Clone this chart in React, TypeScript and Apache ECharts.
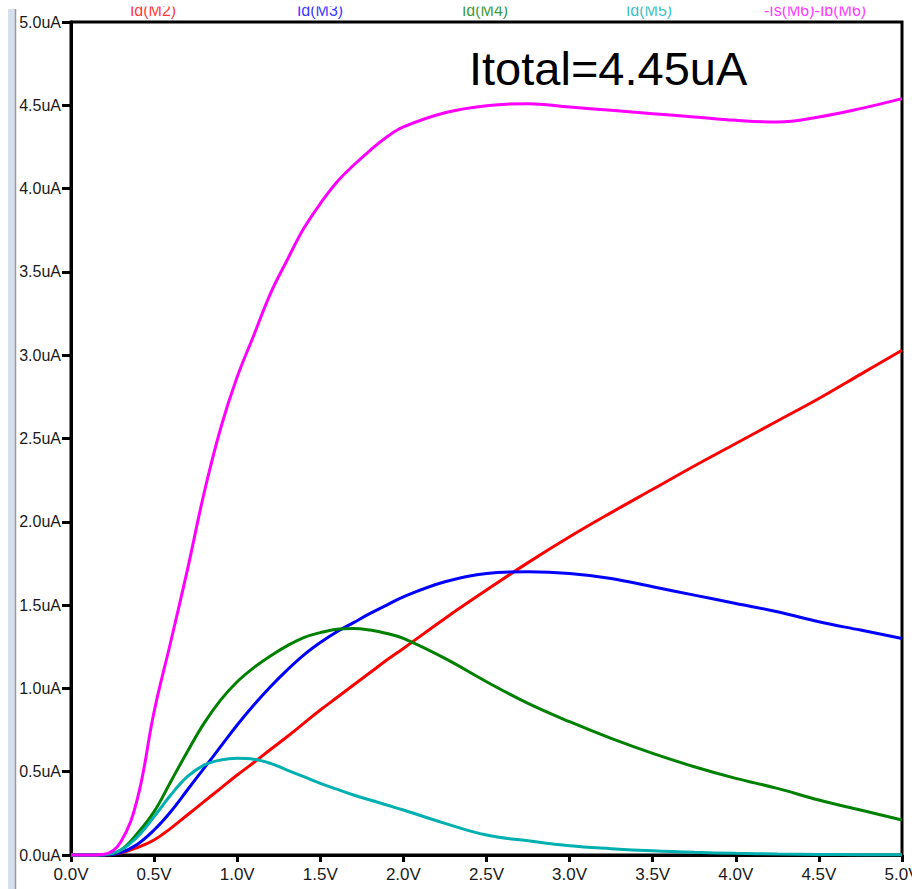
import React, { useEffect, useRef } from "react";
import * as echarts from "echarts";

const voltage = [0, 0.1, 0.2, 0.3, 0.4, 0.5, 0.6, 0.7, 0.8, 0.9, 1.0, 1.1, 1.2, 1.3, 1.4, 1.5, 1.6, 1.7, 1.8, 1.9, 2.0, 2.25, 2.5, 2.75, 3.0, 3.25, 3.5, 3.75, 4.0, 4.25, 4.5, 4.75, 5.0];
const idM2 = [0, 0, 0, 0.012, 0.045, 0.09, 0.16, 0.24, 0.32, 0.4, 0.48, 0.555, 0.633, 0.71, 0.79, 0.87, 0.945, 1.02, 1.095, 1.17, 1.24, 1.42, 1.59, 1.755, 1.91, 2.055, 2.195, 2.335, 2.47, 2.605, 2.74, 2.885, 3.03];
const idM3 = [0, 0, 0, 0.015, 0.065, 0.15, 0.26, 0.39, 0.52, 0.65, 0.78, 0.9, 1.01, 1.11, 1.2, 1.275, 1.34, 1.395, 1.45, 1.5, 1.55, 1.64, 1.69, 1.7, 1.69, 1.66, 1.61, 1.56, 1.51, 1.46, 1.4, 1.35, 1.3];
const idM4 = [0, 0, 0.002, 0.03, 0.13, 0.26, 0.44, 0.62, 0.79, 0.93, 1.04, 1.125, 1.195, 1.255, 1.305, 1.335, 1.355, 1.36, 1.35, 1.33, 1.3, 1.18, 1.04, 0.91, 0.8, 0.7, 0.61, 0.53, 0.46, 0.4, 0.33, 0.27, 0.21];
const idM5 = [0, 0, 0.002, 0.03, 0.11, 0.23, 0.36, 0.47, 0.54, 0.57, 0.58, 0.575, 0.55, 0.51, 0.47, 0.43, 0.395, 0.36, 0.33, 0.3, 0.27, 0.19, 0.12, 0.085, 0.055, 0.038, 0.025, 0.016, 0.01, 0.006, 0.003, 0.002, 0.001];
const isM6 = [0, 0, 0.005, 0.08, 0.34, 0.86, 1.28, 1.71, 2.17, 2.56, 2.87, 3.12, 3.37, 3.57, 3.76, 3.91, 4.04, 4.14, 4.23, 4.31, 4.37, 4.455, 4.497, 4.51, 4.49, 4.47, 4.45, 4.43, 4.41, 4.4, 4.43, 4.48, 4.54];

const seriesNames = ["Id(M2)", "Id(M3)", "Id(M4)", "Id(M5)", "-Is(M6)-Ib(M6)"];
const seriesColors = ["#ff0000", "#0000ff", "#008000", "#00b0b0", "#ff00ff"];
const seriesValues = [idM2, idM3, idM4, idM5, isM6];
const legendCenters = [153, 320, 485, 649, 815];
const annotation = "Itotal=4.45uA";

const FONT = "'Liberation Sans', Arial, sans-serif";

export default function App() {
  const ref = useRef<HTMLDivElement>(null);
  useEffect(() => {
    if (!ref.current) return;
    const chart = echarts.init(ref.current, undefined, { renderer: "svg" });
    const series = seriesValues.map((vals, k) => ({
      name: seriesNames[k],
      type: "line",
      data: voltage.map((v, i) => [v, vals[i]]),
      showSymbol: false,
      smooth: 0.4,
      clip: false,
      lineStyle: { color: seriesColors[k], width: 3 },
      itemStyle: { color: seriesColors[k] },
      z: 3,
    }));
    const legendTexts = seriesNames.map((n, k) => ({
      type: "text",
      x: legendCenters[k],
      y: 10,
      style: {
        text: n,
        fill: seriesColors[k],
        font: `16px ${FONT}`,
        textAlign: "center",
        textVerticalAlign: "middle",
        opacity: 0.8,
      },
    }));
    chart.setOption({
      animation: false,
      backgroundColor: "#ffffff",
      grid: {
        left: 71,
        right: 10,
        top: 22,
        bottom: 34,
        outerBoundsMode: "none",
        containLabel: false,
        show: true,
        borderColor: "#000",
        borderWidth: 3,
        backgroundColor: "transparent",
      },
      xAxis: {
        type: "value",
        min: 0,
        max: 5,
        interval: 0.5,
        splitLine: { show: false },
        axisLine: { show: true, onZero: false, lineStyle: { color: "#000", width: 3 } },
        axisTick: { show: true, inside: false, length: 7, lineStyle: { color: "#000", width: 3 } },
        axisLabel: {
          margin: 11,
          color: "#1a1a1a",
          fontSize: 17,
          fontFamily: FONT,
          hideOverlap: false,
          formatter: (v: number) => v.toFixed(1) + "V",
        },
      },
      yAxis: {
        type: "value",
        min: 0,
        max: 5,
        interval: 0.5,
        splitLine: { show: false },
        axisLine: { show: true, onZero: false, lineStyle: { color: "#000", width: 3 } },
        axisTick: { show: true, inside: false, length: 9, lineStyle: { color: "#000", width: 3 } },
        axisLabel: {
          margin: 10,
          color: "#1a1a1a",
          fontSize: 16,
          fontFamily: FONT,
          formatter: (v: number) => v.toFixed(1) + "uA",
        },
      },
      series,
      graphic: [
        ...legendTexts,
        { type: "rect", shape: { x: 0, y: 0, width: 912, height: 6.5 }, style: { fill: "#ffffff" } },
        { type: "rect", shape: { x: 8, y: 9, width: 7, height: 880 }, style: { fill: "#d5e0ec" } },
        { type: "line", shape: { x1: 15.5, y1: 9, x2: 15.5, y2: 889 }, style: { stroke: "#9a9a9a", lineWidth: 1.5 } },
        {
          type: "text",
          x: 469,
          y: 68,
          style: {
            text: annotation,
            fill: "#000",
            font: `47px ${FONT}`,
            textAlign: "left",
            textVerticalAlign: "middle",
          },
        },
      ],
    });
    return () => chart.dispose();
  }, []);
  return (
    <div
      ref={ref}
      style={{ position: "absolute", left: 0, top: 0, width: 912, height: 889 }}
    />
  );
}
